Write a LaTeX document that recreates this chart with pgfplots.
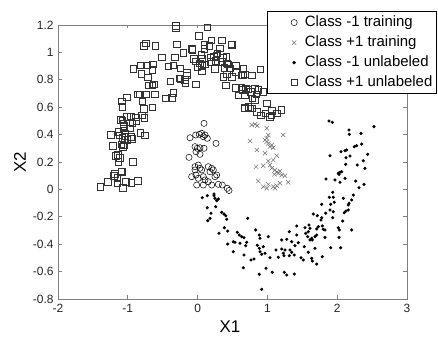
\documentclass[border=0pt]{standalone}
\usepackage{pgfplots}
\pgfplotsset{compat=1.18}
\usepackage{fontspec}
\setmainfont{Liberation Sans}
\begin{document}
\begin{tikzpicture}
\begin{axis}[
  scale only axis, width=349bp, height=274bp,
  at={(0,0)}, anchor=south west,
  xmin=-2, xmax=3, ymin=-0.8, ymax=1.2,
  xtick={-2,-1,0,1,2,3},
  ytick={-0.8,-0.6,-0.4,-0.2,0,0.2,0.4,0.6,0.8,1,1.2},
  tick align=inside, major tick length=3.5bp,
  axis line style={black!50, line width=0.8bp},
  tick style={black!50, line width=0.6bp},
  /pgf/number format/assume math mode=true,
  ticklabel style={font=\fontsize{12}{14}\selectfont, text=black!85},
  xticklabel style={yshift=-2bp},
  yticklabel style={xshift=-1bp},
  xlabel={X1}, ylabel={X2},
  label style={font=\fontsize{17}{20}\selectfont},
  xlabel style={at={(axis description cs:0.493,-0.101)}, anchor=center},
  ylabel style={at={(axis description cs:-0.109,0.5)}, anchor=center},
  legend style={at={(1.085,1.05)}, anchor=north east, draw=black, line width=0.6bp,
    font=\fontsize{15}{18}\selectfont, inner xsep=2bp, inner ysep=1bp,
    nodes={text height=11bp, text depth=3bp, inner ysep=3bp, inner xsep=2bp}},
  legend cell align=left,
  legend image code/.code={\path[draw=none,fill=none,mark=none] (-25bp,-0.1bp) rectangle (8.7bp,0.1bp); \draw[#1, line width=0.6bp] plot coordinates {(0bp,0bp)};},
  /tikz/every even column/.append style={column sep=0bp},
]
% Class -1 training (circles)
\addplot[only marks, mark=o, mark size=3.1bp, mark options={draw=black, line width=0.5bp}] table {
0.092 0.482
-0.109 0.377
-0.027 0.397
0.024 0.402
0.059 0.409
0.082 0.385
0.106 0.397
0.139 0.373
0.264 0.336
-0.037 0.312
-0.004 0.300
0.034 0.304
0.092 0.300
-0.023 0.275
0.034 0.256
-0.123 0.234
-0.037 0.166
0.010 0.178
0.034 0.154
-0.037 0.142
0.059 0.142
0.153 0.166
0.202 0.154
0.178 0.129
0.225 0.142
0.274 0.105
0.249 0.093
-0.085 0.093
-0.023 0.105
0.010 0.081
0.082 0.093
0.106 0.069
0.153 0.056
-0.013 0.032
0.082 0.032
0.202 0.032
0.297 0.037
0.354 0.032
0.425 0.008
0.450 -0.008
};
\addlegendentry{Class -1 training}
% Class +1 training (crosses)
\addplot[only marks, mark=x, mark size=3bp, mark options={draw=black!55, line width=0.5bp}] table {
0.775 0.470
0.822 0.475
0.855 0.465
0.990 0.446
1.228 0.397
1.013 0.397
0.751 0.353
0.990 0.373
0.966 0.361
0.990 0.348
1.013 0.336
1.062 0.324
1.037 0.312
1.085 0.304
0.847 0.288
0.966 0.264
1.133 0.246
1.013 0.207
1.085 0.215
0.837 0.166
0.941 0.173
1.037 0.178
1.062 0.154
1.109 0.142
1.133 0.125
1.156 0.118
1.099 0.110
1.205 0.105
1.252 0.100
1.181 0.134
0.870 0.061
1.299 0.052
0.941 0.020
1.013 0.037
1.085 0.020
1.133 0.027
1.181 0.045
0.990 0.008
1.109 0.008
};
\addlegendentry{Class +1 training}
% Class -1 unlabeled (dots)
\addplot[only marks, mark=*, mark size=1.4bp, mark options={fill=black, draw=black}] table {
0.067 -0.061
0.139 -0.046
0.235 -0.046
0.235 -0.034
0.249 -0.065
0.274 -0.082
0.297 -0.070
0.139 -0.134
0.259 -0.126
0.192 -0.174
0.178 -0.211
0.145 -0.228
0.345 -0.167
0.378 -0.180
0.403 -0.192
0.417 -0.218
0.718 -0.211
0.383 -0.280
0.431 -0.304
0.307 -0.320
0.569 -0.313
0.597 -0.333
0.632 -0.345
0.665 -0.353
0.431 -0.399
0.536 -0.386
0.607 -0.393
0.703 -0.386
0.689 -0.411
0.511 -0.455
0.511 -0.382
0.832 -0.296
0.884 -0.333
0.894 -0.357
1.013 -0.345
0.855 -0.408
0.941 -0.418
0.884 -0.430
0.894 -0.455
0.918 -0.474
0.966 -0.466
0.665 -0.479
0.765 -0.515
0.808 -0.508
0.655 -0.572
1.037 -0.499
1.123 -0.442
1.205 -0.435
1.228 -0.466
1.252 -0.442
1.156 -0.496
1.238 -0.484
1.314 -0.484
1.205 -0.369
1.277 -0.364
1.314 -0.309
0.980 -0.576
1.070 -0.605
0.884 -0.620
1.242 -0.605
1.277 -0.625
1.385 -0.618
0.918 -0.729
1.840 0.076
1.968 0.069
2.040 0.052
2.112 0.081
2.265 0.061
2.384 0.037
2.312 0.012
1.936 -0.021
1.887 -0.058
1.944 -0.058
2.231 -0.041
2.087 -0.065
2.208 -0.077
2.169 -0.101
2.159 -0.114
1.958 -0.094
1.907 -0.109
1.778 -0.109
1.897 -0.150
1.944 -0.163
2.126 -0.158
2.159 -0.150
2.102 -0.170
1.658 -0.180
1.715 -0.192
1.778 -0.207
1.768 -0.223
1.835 -0.174
1.936 -0.207
2.079 -0.231
1.420 -0.267
1.539 -0.280
1.596 -0.260
1.610 -0.284
1.586 -0.309
1.706 -0.289
1.729 -0.272
1.787 -0.267
1.801 -0.291
1.825 -0.296
2.016 -0.280
2.030 -0.296
2.208 -0.296
1.420 -0.333
1.348 -0.382
1.443 -0.389
1.395 -0.411
1.324 -0.442
1.348 -0.459
1.385 -0.479
1.549 -0.321
1.577 -0.345
1.635 -0.357
1.682 -0.345
1.706 -0.333
1.610 -0.369
1.643 -0.369
1.825 -0.350
2.026 -0.350
1.529 -0.418
1.682 -0.430
1.907 -0.426
2.050 -0.426
1.586 -0.459
1.481 -0.499
1.514 -0.515
1.635 -0.503
1.643 -0.523
1.706 -0.545
1.787 -0.491
1.883 0.499
1.930 0.490
2.169 0.434
2.173 0.402
2.341 0.409
2.527 0.458
2.245 0.312
2.279 0.319
2.351 0.331
1.897 0.246
2.054 0.275
2.112 0.282
2.136 0.288
2.183 0.244
2.126 0.231
2.437 0.256
2.374 0.209
2.122 0.183
2.288 0.178
2.398 0.154
2.016 0.118
2.040 0.125
2.064 0.129
2.026 0.110
};
\addlegendentry{Class -1 unlabeled}
% Class +1 unlabeled (squares)
\addplot[only marks, mark=square, mark size=3.2bp, mark options={draw=black!80, line width=0.6bp}] table {
-0.314 1.193
-0.314 1.176
0.139 1.183
-0.744 1.066
-0.772 1.049
-0.606 1.047
0.020 1.122
-0.299 1.059
-0.514 0.966
-0.209 0.998
-0.080 1.018
0.192 1.088
0.092 1.056
-0.921 0.881
-0.825 0.906
-0.807 0.845
-0.721 0.908
-0.643 0.913
-0.653 0.874
-0.420 0.899
-0.352 0.906
-0.252 0.884
-0.156 0.850
-0.248 0.808
-0.395 0.791
-0.711 0.820
-0.701 0.762
-0.649 0.762
-0.625 0.769
-0.027 0.937
0.034 0.920
-0.004 0.893
0.059 0.903
0.059 0.864
0.249 0.881
0.264 0.974
0.178 0.964
-0.176 0.774
-0.348 0.706
-0.453 0.665
-0.367 0.669
-1.083 0.604
-1.016 0.672
-0.830 0.696
-0.858 0.696
-0.744 0.694
-0.615 0.694
-0.792 0.645
-0.772 0.589
-0.649 0.599
-1.102 0.509
-1.016 0.531
-0.958 0.534
-0.887 0.526
-0.764 0.523
-0.936 0.482
-1.064 0.480
-0.964 0.446
-1.064 0.448
-1.245 0.399
-1.140 0.421
-1.044 0.388
-1.083 0.377
-0.958 0.385
-0.944 0.368
-0.825 0.412
-0.754 0.395
-1.216 0.319
-1.093 0.329
-1.073 0.312
-1.059 0.322
-1.173 0.244
-1.145 0.253
-1.140 0.200
-0.926 0.202
-1.087 0.643
-1.083 0.503
-0.878 0.497
-0.801 0.541
-1.059 0.463
-1.122 0.397
-1.036 0.409
-1.054 0.366
-1.007 0.361
-1.116 0.231
-1.398 0.020
-1.284 0.056
-1.198 0.100
-1.150 0.085
-1.150 0.045
-1.087 0.127
-1.073 0.012
-1.030 0.056
-0.954 0.049
-0.858 0.064
-1.093 0.134
-1.188 0.115
0.345 1.088
0.479 1.059
0.489 1.054
-0.085 1.025
0.092 1.025
0.168 1.047
0.317 1.030
-0.324 0.964
-0.052 0.952
0.063 0.957
0.278 0.993
0.231 0.969
0.254 0.939
0.106 0.915
0.188 0.932
0.354 0.932
0.417 0.920
0.383 0.888
0.464 0.884
0.546 0.903
0.550 0.859
0.646 0.884
0.679 0.840
0.622 0.835
0.368 0.823
0.417 0.840
0.489 0.823
0.403 0.762
-0.266 0.813
-0.156 0.835
-0.181 0.799
-0.023 0.767
0.550 0.742
0.622 0.745
0.693 0.738
0.583 0.689
0.679 0.689
0.679 0.596
0.726 0.604
0.775 0.592
0.784 0.665
0.049 0.981
0.360 0.961
0.407 0.969
0.431 0.915
0.655 0.879
0.775 0.835
0.894 0.877
0.646 0.835
0.646 0.726
0.726 0.731
0.761 0.713
0.822 0.738
0.870 0.726
0.837 0.696
0.941 0.713
0.822 0.653
0.847 0.567
0.908 0.543
0.966 0.555
0.990 0.628
1.052 0.543
1.062 0.574
1.199 0.580
1.037 0.531
1.133 0.555
0.751 0.592
0.665 0.592
};
\addlegendentry{Class +1 unlabeled}
\end{axis}
\pgfresetboundingbox
\path[use as bounding box] (-58bp,-39bp) rectangle (380bp,299bp);
\end{tikzpicture}
\end{document}
